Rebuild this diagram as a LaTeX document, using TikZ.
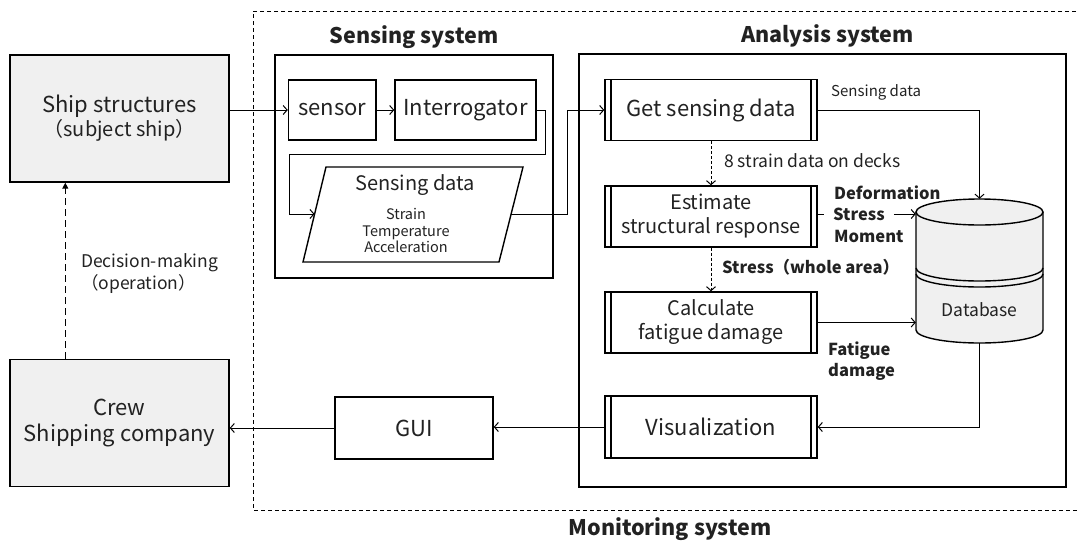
\documentclass[tikz,border=0pt]{standalone}
\usepackage{fontspec}
\setmainfont{Noto Sans CJK JP}
\usetikzlibrary{arrows.meta}
\definecolor{ink}{HTML}{222222}
\definecolor{paper}{HTML}{F0F0F0}
\newcommand\fsz[2]{\fontsize{#1pt}{#2pt}\selectfont}

\begin{document}
\begin{tikzpicture}[x=1pt,y=-1pt,
  box/.style={draw, line width=1.4pt, inner sep=0pt, align=center, text=ink, font=\fsz{22}{24}},
  shipbox/.style={box, fill=paper, minimum width=219pt, minimum height=127pt},
  proc/.style={box, minimum width=212pt, minimum height=61pt,
    path picture={
      \draw[line width=1.2pt]
        ([xshift=6pt]path picture bounding box.north west) -- ([xshift=6pt]path picture bounding box.south west)
        ([xshift=-6pt]path picture bounding box.north east) -- ([xshift=-6pt]path picture bounding box.south east);
    }},
  frame/.style={draw, line width=1.8pt, inner sep=0pt},
  title/.style={font=\bfseries\fsz{21.5}{24}, text=ink, inner sep=0pt},
  lbl/.style={font=\fsz{17.5}{20}, text=ink, inner sep=0pt},
  blbl/.style={font=\bfseries\fsz{16.5}{20}, text=ink, inner sep=0pt},
  arr/.style={draw, line width=1pt, -{Straight Barb[length=4pt,width=9pt,line width=1pt]}},
  darr/.style={arr, dash pattern=on 3pt off 2pt},
  decarr/.style={draw, line width=1.2pt, dash pattern=on 7pt off 4pt, -{Triangle[length=6pt,width=6pt]}},
]
\useasboundingbox (0,0) rectangle (1078,544);

% monitoring system boundary (open towards the right edge)
\begin{scope}
  \clip (0,0) rectangle (1078,544);
  \draw[line width=1pt, dash pattern=on 4pt off 3pt] (1090,11) -- (253,11) -- (253,510) -- (1090,510);
\end{scope}
\node[title] (montitle) at (670,529) {Monitoring system};

% left-hand actors
\node[shipbox] (ship) at (119.5,118.5) {Ship structures\\{\fsz{20}{17}（subject ship）}};
\node[shipbox, font=\fsz{22}{26}] (crew) at (119.5,423) {Crew\\Shipping company};
\node[lbl, anchor=west] (dm1) at (81,263) {Decision-making};
\node[lbl, anchor=west] (dm2) at (81,284) {（operation）};

% sensing system
\node[frame, minimum width=278pt, minimum height=223pt] (sensys) at (414,166.5) {};
\node[title] (senstitle) at (414,37) {Sensing system};
\node[box, minimum width=87.5pt, minimum height=60pt] (sensor) at (332.25,110) {sensor};
\node[box, minimum width=141pt, minimum height=60pt] (inter) at (465.5,110) {Interrogator};
\draw[line width=1.4pt, fill=white] (326,167) -- (523,167) -- (499,262) -- (303,262) -- cycle;
\coordinate (sdin) at (314.6,214);
\coordinate (sdout) at (511,214);
\node[text=ink, font=\fsz{20}{22}, inner sep=0pt] (sdtitle) at (415,185) {Sensing data};
\node[text=ink, font=\fsz{14.5}{16.5}, align=center, inner sep=0pt] (sdvals) at (406,230.5) {Strain\\Temperature\\Acceleration};

% analysis system
\node[frame, minimum width=487pt, minimum height=433pt] (anasys) at (822.5,270.5) {};
\node[title] (anatitle) at (827.5,36) {Analysis system};
\node[proc] (get) at (711,110) {Get sensing data};
\node[proc, font=\fsz{20}{24}] (est) at (711,216.5) {Estimate\\structural response};
\node[proc, font=\fsz{20}{24}] (calc) at (711,322.5) {Calculate\\fatigue damage};
\node[proc, minimum height=62pt] (vis) at (711,427) {Visualization};
\node[box, minimum width=158pt, minimum height=62pt] (gui) at (414,428) {GUI};

% database cylinder
\fill[paper] (916,212) -- (916,330) arc[start angle=180, end angle=0, x radius=63.5, y radius=13]
  -- (1043,212) arc[start angle=360, end angle=180, x radius=63.5, y radius=13] -- cycle;
\draw[line width=1.4pt] (916,212) -- (916,330) arc[start angle=180, end angle=0, x radius=63.5, y radius=13] -- (1043,212);
\draw[line width=1.4pt] (979.5,212) ellipse[x radius=63.5, y radius=13];
\draw[line width=1.4pt] (916,268) arc[start angle=180, end angle=0, x radius=63.5, y radius=13];
\draw[line width=1.4pt] (916,274) arc[start angle=180, end angle=0, x radius=63.5, y radius=13];
\node[inner sep=0pt, minimum width=127pt, minimum height=144pt] (db) at (979.5,271) {};
\node[text=ink, font=\fsz{17.5}{20}, inner sep=0pt] (dbtext) at (979.5,310) {Database};

% labels on the analysis flow
\node[font=\fsz{15}{17}, text=ink, inner sep=0pt, anchor=west] (sdlabel) at (831,92) {Sensing data};
\node[font=\fsz{17.5}{19}, text=ink, inner sep=0pt, anchor=west] (strainlbl) at (724,161) {8 strain data on decks};
\node[blbl, anchor=west] (deform) at (834,193) {Deformation};
\node[blbl, anchor=west, inner xsep=9pt] (stress) at (824,214) {Stress};
\node[blbl, anchor=west] (moment) at (834,236) {Moment};
\node[blbl, anchor=west] (wholearea) at (722,267) {Stress（whole area）};
\node[blbl, anchor=west] (fat1) at (828,351) {Fatigue};
\node[blbl, anchor=west] (fat2) at (828,372) {damage};

% connectors
\draw[arr] (ship.east |- sensor.west) -- (sensor.west);
\draw[arr] (sensor) -- (inter);
\draw[arr] (inter.east) -- ++(9,0) |- (289,154) |- (sdin);
\draw[arr] (sdout) -- (567.5,214) |- (get.west);
\draw[arr] (get.east) -| (db.north);
\draw[darr] (get) -- (est);
\draw[line width=1pt] (stress.west -| est.east) -- (stress.west);
\draw[arr] (stress.east) -- (stress.east -| db.west);
\draw[darr] (est) -- (calc);
\draw[arr] (calc.east) -- (calc.east -| db.west);
\draw[arr] (db.south) |- (vis.east);
\draw[arr] (vis.west) -- (vis.west -| gui.east);
\draw[arr] (gui.west) -- (gui.west -| crew.east);
\draw[decarr] ([xshift=56pt]crew.north west) -- ([xshift=56pt]ship.south west);
\end{tikzpicture}
\end{document}
